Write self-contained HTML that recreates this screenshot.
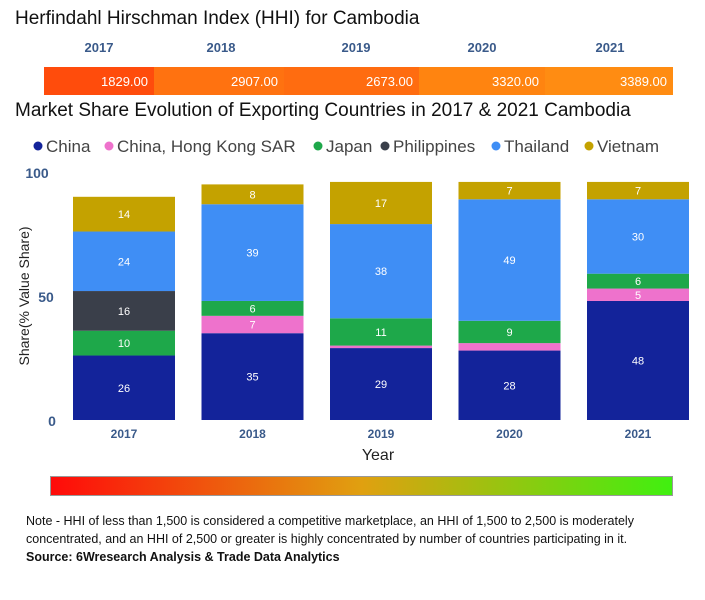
<!DOCTYPE html>
<html><head><meta charset="utf-8"><style>
body{margin:0;width:705px;height:600px;background:#fff;font-family:"Liberation Sans",sans-serif;overflow:hidden;position:relative}
.t{position:absolute;white-space:nowrap}
</style></head><body>
<div class="t" style="left:15px;top:8px;font-size:19px;color:#111">Herfindahl Hirschman Index (HHI) for Cambodia</div>
<svg id="hhi" width="705" height="100" style="position:absolute;left:0;top:0"></svg>
<div class="t" style="left:15px;top:100px;font-size:19px;color:#111">Market Share Evolution of Exporting Countries in 2017 &amp; 2021 Cambodia</div>
<svg id="chart" width="705" height="600" style="position:absolute;left:0;top:0"></svg>
<div style="position:absolute;left:50px;top:476px;width:621px;height:18px;border:1px solid #999;background:linear-gradient(to right,#ff0a0a,#e0a010 50%,#40f010)"></div>
<div class="t" style="left:26px;top:512px;font-size:12.5px;line-height:18px;color:#111;white-space:normal;width:680px">Note - HHI of less than 1,500 is considered a competitive marketplace, an HHI of 1,500 to 2,500 is moderately concentrated, and an HHI of 2,500 or greater is highly concentrated by number of countries participating in it.<br><b>Source: 6Wresearch Analysis &amp; Trade Data Analytics</b></div>
<script>
const years=["2017","2018","2019","2020","2021"];
const hhiValues=[1829,2907,2673,3320,3389];
const seriesNames=["China","China, Hong Kong SAR","Japan","Philippines","Thailand","Vietnam"];
const china=[26,35,29,28,48];
const hongKong=[0,7,1,3,5];
const japan=[10,6,11,9,6];
const philippines=[16,0,0,0,0];
const thailand=[24,39,38,49,30];
const vietnam=[14,8,17,7,7];
const yTicks=[0,50,100];
const colors=["#13239a","#ee72cc","#1ea84a","#3a3f4a","#3f8ef5","#c4a200"];
const series=[china,hongKong,japan,philippines,thailand,vietnam];
const NS="http://www.w3.org/2000/svg";
function mk(p,tag,a,txt){const e=document.createElementNS(NS,tag);for(const k in a)e.setAttribute(k,a[k]);if(txt!==undefined)e.textContent=txt;p.appendChild(e);return e;}
// HHI strip
const hhi=document.getElementById('hhi');
const segX=[44,154,284,419,545,673];
const hhiCols=["#ff4c0c","#ff7210","#ff6c10","#ff8410","#ff8c12"];
const labX=[99,221,356,482,610];
years.forEach((y,i)=>{
 let r=mk(hhi,'rect',{x:segX[i],y:67,width:segX[i+1]-segX[i],height:28,fill:hhiCols[i]});
 
 let v=mk(hhi,'text',{x:segX[i+1]-6,y:86,'text-anchor':'end','font-size':13,fill:'#fff','font-family':'Liberation Sans'},hhiValues[i].toFixed(2));
 
 let l=mk(hhi,'text',{x:labX[i],y:52,'text-anchor':'middle','font-size':13,'font-weight':'bold',fill:'#3a5a8a','font-family':'Liberation Sans'},y);
 
});
// chart
const svg=document.getElementById('chart');
const y0=420,pxPer=2.48;
const yS=v=>y0-v*pxPer;
const xS=i=>73+i*128.5;
const bw=102;
// legend
const legX=[33,104,313,380,491,584];
seriesNames.forEach((n,i)=>{
 let c=mk(svg,'circle',{cx:legX[i]+5,cy:146,r:4.5,fill:colors[i]});
 
 let t=mk(svg,'text',{x:legX[i]+13,y:152,'font-size':17,fill:'#444','font-family':'Liberation Sans'},n);
 
});
yTicks.forEach(v=>{
 let t=mk(svg,'text',{x:v===100?37:(v===50?46:52),y:yS(v)+6,'text-anchor':'middle','font-size':14,'font-weight':'bold',fill:'#3a5a8a','font-family':'Liberation Sans'},v);
 
});
let yt=mk(svg,'text',{x:0,y:0,transform:'translate(29,296) rotate(-90)','text-anchor':'middle','font-size':14,fill:'#222','font-family':'Liberation Sans'},'Share(% Value Share)');

let xt=mk(svg,'text',{x:378,y:460,'text-anchor':'middle','font-size':16,fill:'#222','font-family':'Liberation Sans'},'Year');

years.forEach((y,i)=>{
 let acc=0;
 series.forEach((s,k)=>{
  const v=s[i];if(!v)return;
  const top=yS(acc+v),bot=yS(acc);
  let r=mk(svg,'rect',{x:xS(i),y:top,width:bw,height:bot-top,fill:colors[k]});
  
  if(v>=4){let t=mk(svg,'text',{x:xS(i)+bw/2,y:(top+bot)/2+4,'text-anchor':'middle','font-size':11,fill:'#fff','font-family':'Liberation Sans'},v);
  }
  acc+=v;
 });
 let xl=mk(svg,'text',{x:xS(i)+bw/2,y:438,'text-anchor':'middle','font-size':12,'font-weight':'bold',fill:'#3a5a8a','font-family':'Liberation Sans'},y);
 
});
</script>
</body></html>
